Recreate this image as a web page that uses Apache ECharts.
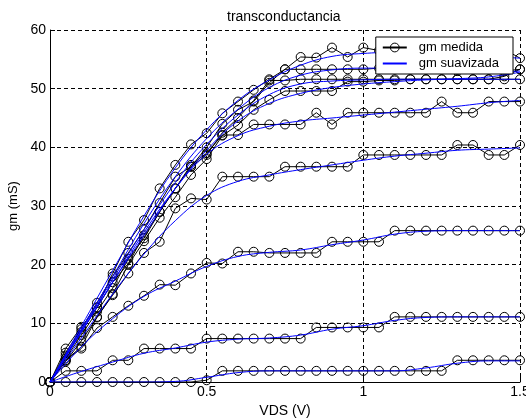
<!DOCTYPE html>
<html>
<head>
<meta charset="utf-8">
<script src="https://cdn.jsdelivr.net/npm/echarts@6/dist/echarts.min.js"></script>
<style>
html,body{margin:0;padding:0;background:#fff;}
#chart{width:526px;height:419px;}
</style>
</head>
<body>
<div id="chart"></div>
<script>
// VDS values (V) of measured points
const xs = [0,0.05,0.1,0.15,0.2,0.25,0.3,0.35,0.4,0.45,0.5,0.55,0.6,0.65,0.7,0.75,0.8,0.85,0.9,0.95,1.0,1.05,1.1,1.15,1.2,1.25,1.3,1.35,1.4,1.45,1.5];
// VDS values (V) of smoothed curves
const xsSmooth = [0,0.1,0.2,0.3,0.4,0.5,0.6,0.7,0.8,0.9,1.0,1.1,1.2,1.3,1.4,1.5];

// measured gm (mS)
const medida1 = [0,0,0,0,0,0,0,0,0,0,0.3,1.9,1.9,1.9,1.9,1.9,1.9,1.9,1.9,1.9,1.9,1.9,1.9,1.9,1.9,1.9,3.7,3.7,3.7,3.7,3.7];
const medida2 = [0,1.9,1.9,1.9,3.7,3.7,5.7,5.7,5.7,5.7,7.4,7.4,7.4,7.4,7.4,7.4,7.4,9.3,9.3,9.3,9.3,9.3,11.1,11.1,11.1,11.1,11.1,11.1,11.1,11.1,11.1];
const medida3 = [0,3.7,5.7,9.2,11.1,13.0,14.7,16.6,16.5,18.5,20.3,20.2,22.2,22.2,22.0,22.0,22.0,22.0,23.9,23.9,23.9,23.9,25.8,25.8,25.8,25.8,25.8,25.8,25.8,25.8,25.8];
const medida4 = [0,3.7,6.0,11.1,14.8,18.5,22.0,23.9,29.6,31.3,31.1,35.0,35.0,35.0,35.0,36.7,36.7,36.7,36.7,36.7,38.7,38.7,38.7,38.7,38.7,38.7,40.4,40.4,38.7,38.7,40.4];
const medida5 = [0,4.5,8.5,12.7,17.0,20.2,25.0,29.0,33.0,37.0,39.0,42.1,42.1,43.9,43.9,43.9,43.9,45.9,43.9,45.9,45.9,45.9,45.9,45.9,45.9,47.8,45.9,45.9,47.8,47.8,47.8];
const medida6 = [0,5.7,9.4,12.7,18.5,23.9,27.6,33.0,37.0,40.5,42.4,45.8,47.8,49.8,51.6,53.3,55.4,55.3,57.0,55.4,57.0,56.5,56.0,56.5,55.5,56.0,55.5,55.0,55.5,56.7,55.2];
const medida7 = [0,5.0,9.0,13.5,18.0,22.0,26.0,30.5,35.0,36.7,40.0,44.0,46.4,47.8,51.0,53.3,53.3,53.3,53.3,53.3,53.3,53.5,53.3,53.5,53.3,53.3,53.0,53.3,53.3,53.0,53.3];
const medida8 = [0,4.0,8.0,12.0,16.0,21.0,24.5,29.0,33.0,36.7,38.7,42.5,45.0,48.0,51.4,51.4,51.6,51.6,51.6,51.6,51.6,51.6,51.6,51.6,51.6,51.6,51.6,51.6,51.6,51.6,51.6];
const medida9 = [0,3.5,7.0,11.0,15.0,20.0,24.0,28.0,31.5,35.3,38.0,42.0,43.8,46.4,48.1,49.6,49.6,49.6,49.6,51.2,51.2,51.4,51.4,51.6,51.6,51.6,51.6,51.6,51.6,52.1,53.3];

// smoothed gm (mS)
const suave1 = [0,0,0,0,0.1,0.8,1.6,1.9,1.9,1.9,1.9,1.9,2.4,3.2,3.6,3.6];
const suave2 = [0,1.8,3.4,4.9,5.8,6.8,7.3,7.5,8.0,9.0,9.6,10.5,11.0,11.1,11.1,11.1];
const suave3 = [0,6.0,10.8,14.6,17.2,19.7,21.4,22.1,22.5,23.4,24.2,25.2,25.7,25.8,25.8,25.8];
const suave4 = [0,7.5,15.0,21.8,27.5,31.8,34.2,35.3,36.2,37.0,37.8,38.5,39.0,39.5,39.7,39.9];
const suave5 = [0,8.5,17.0,25.5,33.0,38.8,42.0,43.6,44.5,45.0,45.5,46.0,46.5,47.0,47.6,48.0];
const suave6 = [0,9.5,19.0,28.3,36.5,43.0,48.0,51.5,54.0,55.5,56.0,56.2,56.0,55.8,55.5,55.2];
const suave7 = [0,9.0,18.0,27.0,35.0,41.5,46.5,50.2,52.3,53.2,53.5,53.5,53.3,53.0,52.8,53.0];
const suave8 = [0,8.8,17.5,26.0,34.0,40.5,45.5,49.0,50.8,51.3,51.5,51.6,51.6,51.6,51.6,51.6];
const suave9 = [0,8.5,17.0,25.0,33.0,39.5,44.5,47.5,49.2,50.2,50.8,51.2,51.5,51.7,52.0,52.8];

const medidas = [medida1,medida2,medida3,medida4,medida5,medida6,medida7,medida8,medida9];
const suaves = [suave1,suave2,suave3,suave4,suave5,suave6,suave7,suave8,suave9];

const FONT = '"Liberation Sans", Arial, Helvetica, sans-serif';

const series = [];
medidas.forEach(function (m) {
  series.push({
    name: 'gm medida',
    type: 'line',
    data: xs.map(function (x, i) { return [x, m[i]]; }),
    symbol: 'circle',
    symbolSize: 9,
    showAllSymbol: true,
    color: '#000',
    lineStyle: { color: '#000', width: 1 },
    itemStyle: { color: 'rgba(255,255,255,0)', borderColor: '#000', borderWidth: 1 },
    emphasis: { disabled: true },
    z: 2
  });
});
suaves.forEach(function (s) {
  series.push({
    name: 'gm suavizada',
    type: 'line',
    data: xsSmooth.map(function (x, i) { return [x, s[i]]; }),
    smooth: 0.4,
    symbol: 'none',
    color: '#0000ff',
    lineStyle: { color: '#0000ff', width: 1 },
    itemStyle: { color: '#0000ff' },
    emphasis: { disabled: true },
    z: 3
  });
});

const chart = echarts.init(document.getElementById('chart'), null, { renderer: 'canvas' });
chart.setOption({
  animation: false,
  backgroundColor: '#fff',
  textStyle: { fontFamily: FONT },
  title: {
    text: 'transconductancia',
    left: 227,
    top: 10,
    padding: 0,
    textStyle: { fontSize: 14, fontWeight: 'normal', color: '#000', fontFamily: FONT }
  },
  legend: {
    data: [
      { name: 'gm medida', itemStyle: { borderWidth: 1 } },
      { name: 'gm suavizada', itemStyle: { opacity: 0 } }
    ],
    orient: 'vertical',
    right: 13,
    top: 37,
    backgroundColor: '#fff',
    borderColor: '#000',
    borderWidth: 1,
    borderRadius: 0,
    padding: [4, 14, 4, 6],
    itemGap: 3,
    itemWidth: 24,
    itemHeight: 11,
    selectedMode: false,
    textStyle: { fontSize: 13, color: '#000', fontFamily: FONT, padding: [0, 0, 0, 7] }
  },
  grid: { left: 50, right: 6, top: 30, bottom: 37, containLabel: false, outerBoundsMode: 'none' },
  xAxis: {
    type: 'value',
    min: 0, max: 1.5, interval: 0.5,
    name: 'VDS (V)',
    nameLocation: 'middle',
    nameGap: 22,
    nameTextStyle: { fontSize: 14, color: '#000', fontFamily: FONT },
    axisLine: { show: true, lineStyle: { color: '#000', width: 1 } },
    axisTick: { show: true, inside: true, length: 5, lineStyle: { color: '#000' } },
    axisLabel: { fontSize: 14, color: '#000', margin: 3, fontFamily: FONT },
    splitLine: { show: true, lineStyle: { color: '#000', type: [4, 3], width: 1 } }
  },
  yAxis: {
    type: 'value',
    min: 0, max: 60, interval: 10,
    name: 'gm (mS)',
    nameLocation: 'middle',
    nameGap: 28,
    nameRotate: 90,
    nameTextStyle: { fontSize: 13, color: '#000', fontFamily: FONT },
    axisLine: { show: true, lineStyle: { color: '#000', width: 1 } },
    axisTick: { show: true, inside: true, length: 5, lineStyle: { color: '#000' } },
    axisLabel: { fontSize: 14, color: '#000', margin: 4, fontFamily: FONT },
    splitLine: { show: true, lineStyle: { color: '#000', type: [4, 3], width: 1 } }
  },
  series: series
});
</script>
</body>
</html>
